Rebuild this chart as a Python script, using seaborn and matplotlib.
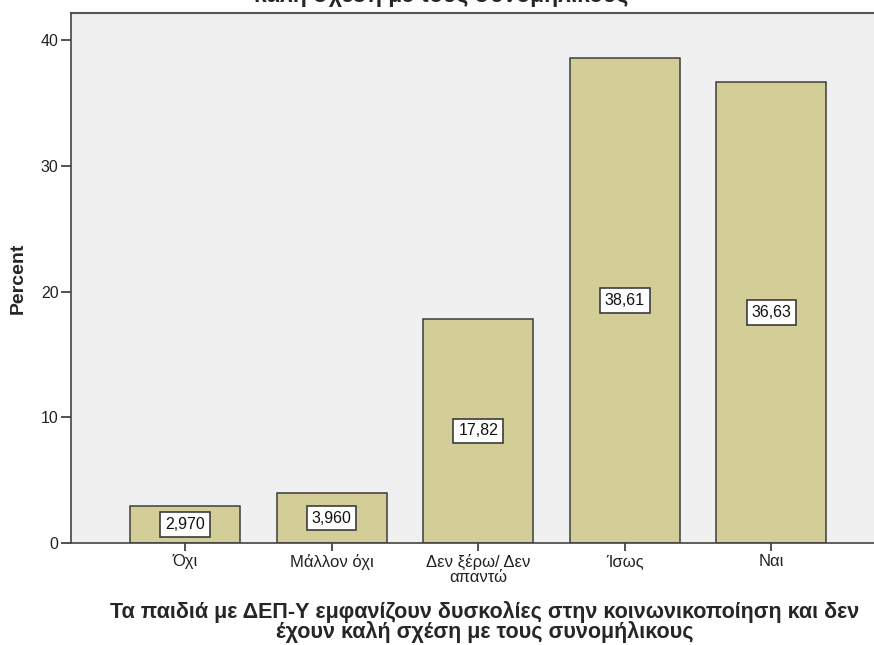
import matplotlib
matplotlib.use("Agg")
import matplotlib.pyplot as plt
import seaborn as sns
import pandas as pd

# answers and percentages
categories = ["Όχι", "Μάλλον όχι", "Δεν ξέρω/ Δεν\nαπαντώ", "Ίσως", "Ναι"]
percents = [2.970, 3.960, 17.82, 38.61, 36.63]
value_labels = ["2,970", "3,960", "17,82", "38,61", "36,63"]
yticks = [0, 10, 20, 30, 40]

title = ("Τα παιδιά με ΔΕΠ-Υ εμφανίζουν δυσκολίες στην κοινωνικοποίηση και δεν έχουν\n"
         "καλή σχέση με τους συνομήλικους")
xlabel = ("Τα παιδιά με ΔΕΠ-Υ εμφανίζουν δυσκολίες στην κοινωνικοποίηση και δεν\n"
          "έχουν καλή σχέση με τους συνομήλικους")

df = pd.DataFrame({"answer": categories, "percent": percents})

sns.set_style("ticks")
plt.rcParams["font.family"] = ["Liberation Sans", "DejaVu Sans"]

fig = plt.figure(figsize=(8.74, 6.45), dpi=100)
# plot area: left axis at x=71px, bottom at y=543px, top border at y=13px
ax = fig.add_axes([71 / 874, 102 / 645, 1 - 71 / 874, 530 / 645])
ax.set_facecolor("#f0f0f0")

sns.barplot(data=df, x="answer", y="percent", ax=ax, color="#d3ce97",
            saturation=1, width=0.75, edgecolor="#3c3c3c", linewidth=1.1)

for i, (v, lab) in enumerate(zip(percents, value_labels)):
    ax.text(i, v / 2, lab, ha="center", va="center", fontsize=11.5, color="#111111",
            bbox=dict(boxstyle="square,pad=0.3", fc="white", ec="#3c3c3c", lw=1.2))

ax.set_xlim(-0.778, 4.70)
ax.set_ylim(0, 42.15)
ax.set_yticks(yticks)
ax.tick_params(axis="both", colors="#333333", width=1.2)
ax.tick_params(axis="y", length=7, labelsize=11.5, labelcolor="#222222", pad=2)
ax.tick_params(axis="x", length=6, labelsize=12, labelcolor="#222222", pad=2)
for t in ax.get_xticklabels():
    t.set_linespacing(1.0)
for side in ["top", "right"]:
    ax.spines[side].set_visible(False)
for side in ["left", "bottom"]:
    ax.spines[side].set_color("#444444")
    ax.spines[side].set_linewidth(1.2)
ax.axhline(42.15, color="#555555", lw=1.5, clip_on=False)

ax.set_ylabel("Percent", fontsize=14, fontweight="bold", va="center")
ax.yaxis.set_label_coords((18 - 71) / 803, 0.5)
ax.set_xlabel(xlabel, fontsize=15.5, fontweight="bold", linespacing=0.86)
ax.xaxis.set_label_coords((485 - 71) / 803, -58 / 530)
ax.xaxis.label.set_va("top")

fig.text(441 / 874, 1 - 7 / 645, title, ha="center", va="bottom", fontsize=16.5,
         fontweight="bold", linespacing=0.9)

fig.savefig("out.png", dpi=100)
